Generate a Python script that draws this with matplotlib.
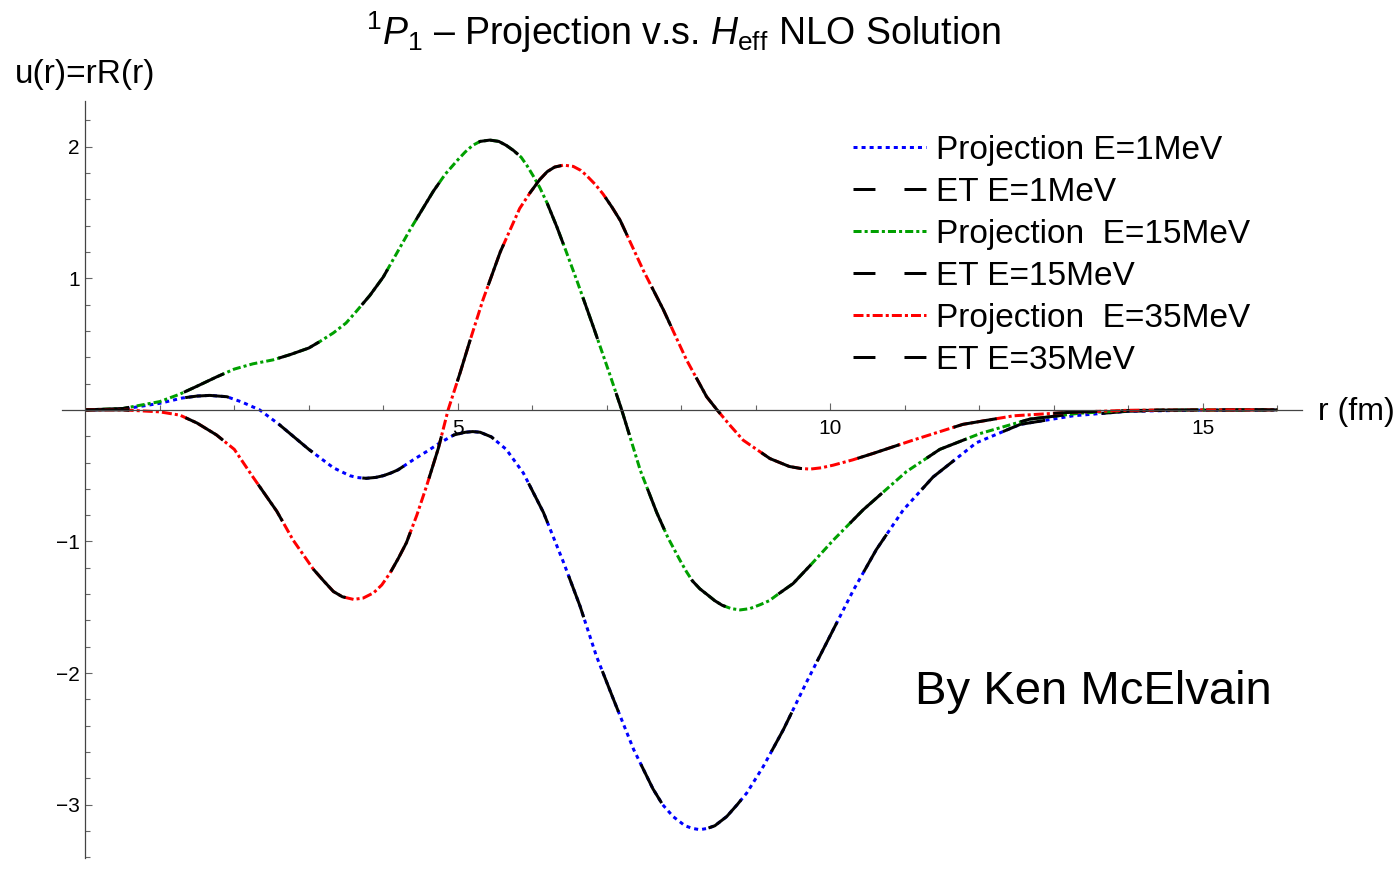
import numpy as np
import matplotlib.pyplot as plt
from matplotlib.lines import Line2D
from matplotlib.ticker import FixedLocator

plt.rcParams['font.family'] = ['Liberation Sans', 'DejaVu Sans']
plt.rcParams['mathtext.fontset'] = 'custom'
plt.rcParams['mathtext.rm'] = 'Liberation Sans'
plt.rcParams['mathtext.it'] = 'Liberation Sans:italic'
plt.rcParams['lines.scale_dashes'] = False  # dash lengths below are in points

# u(r) = r R(r) for the 1P1 channel, r in fm
r_1 = [0, 0.5, 1.0, 1.3, 1.5, 1.67, 1.9, 2.1, 2.34, 2.6, 3.0, 3.33, 3.55, 3.65,
       3.77, 3.9, 4.0, 4.1, 4.2, 4.4, 4.6, 4.76, 4.95, 5.1, 5.2, 5.3, 5.45,
       5.65, 5.88, 6.15, 6.42, 6.64, 6.86, 7.09, 7.36, 7.62, 7.75, 7.89, 8.05,
       8.15, 8.25, 8.35, 8.45, 8.61, 8.75, 8.88, 9.1, 9.37, 9.68, 9.95, 10.31,
       10.62, 10.98, 11.38, 11.96, 12.55, 13.26, 14.0, 15.0, 16.0]
u_1 = [0, 0.005, 0.05, 0.09, 0.105, 0.11, 0.10, 0.06, 0.0, -0.11, -0.30, -0.44,
       -0.50, -0.514, -0.52, -0.513, -0.50, -0.48, -0.455, -0.38, -0.31, -0.25,
       -0.19, -0.17, -0.165, -0.17, -0.205, -0.30, -0.48, -0.78, -1.16, -1.49,
       -1.87, -2.20, -2.58, -2.88, -3.0, -3.09, -3.16, -3.18, -3.19, -3.18,
       -3.16, -3.09, -3.0, -2.91, -2.71, -2.43, -2.07, -1.77, -1.37, -1.06,
       -0.76, -0.51, -0.25, -0.11, -0.045, -0.01, -0.002, 0]

r_15 = [0, 0.5, 1.0, 1.27, 1.5, 1.76, 2.0, 2.25, 2.52, 2.75, 3.0, 3.15, 3.33,
        3.5, 3.64, 3.82, 4.0, 4.18, 4.36, 4.52, 4.67, 4.83, 5.0, 5.1, 5.2, 5.3,
        5.43, 5.55, 5.65, 5.75, 5.85, 5.93, 6.01, 6.1, 6.2, 6.33, 6.45, 6.6,
        6.82, 7.04, 7.2, 7.45, 7.67, 7.82, 7.98, 8.07, 8.15, 8.25, 8.34, 8.45,
        8.55, 8.67, 8.79, 8.92, 9.06, 9.18, 9.3, 9.5, 9.75, 10.04, 10.44, 11.02,
        11.47, 12.01, 12.68, 13.35, 14.0, 15.0, 16.0]
u_15 = [0, 0.01, 0.063, 0.12, 0.18, 0.25, 0.31, 0.35, 0.38, 0.42, 0.47, 0.52,
        0.585, 0.66, 0.75, 0.87, 1.01, 1.19, 1.37, 1.52, 1.66, 1.79, 1.90, 1.96,
        2.01, 2.04, 2.05, 2.04, 2.01, 1.97, 1.92, 1.855, 1.78, 1.69, 1.57, 1.39,
        1.21, 0.98, 0.63, 0.27, 0.0, -0.46, -0.78, -0.97, -1.14, -1.23, -1.30,
        -1.36, -1.40, -1.45, -1.485, -1.51, -1.52, -1.51, -1.48, -1.45, -1.40,
        -1.32, -1.17, -0.99, -0.76, -0.47, -0.30, -0.18, -0.07, -0.025, -0.005,
        0, 0]

r_35 = [0, 0.5, 1.0, 1.27, 1.5, 1.76, 2.0, 2.25, 2.57, 2.79, 3.06, 3.2, 3.33,
        3.45, 3.6, 3.73, 3.87, 3.98, 4.09, 4.2, 4.31, 4.45, 4.58, 4.74, 4.87,
        5.03, 5.16, 5.34, 5.57, 5.83, 5.97, 6.1, 6.2, 6.3, 6.42, 6.55, 6.65,
        6.73, 6.85, 6.95, 7.07, 7.18, 7.49, 7.76, 8.07, 8.34, 8.48, 8.65, 8.83,
        9.19, 9.45, 9.6, 9.73, 9.88, 10.04, 10.3, 10.58, 11.11, 11.78, 12.46,
        13.17, 14.0, 15.0, 16.0]
u_35 = [0, 0, -0.015, -0.04, -0.10, -0.19, -0.30, -0.51, -0.77, -0.99, -1.21,
        -1.30, -1.38, -1.42, -1.44, -1.43, -1.39, -1.33, -1.24, -1.13, -1.01,
        -0.80, -0.58, -0.29, 0.0, 0.28, 0.52, 0.84, 1.20, 1.53, 1.65, 1.75,
        1.81, 1.845, 1.86, 1.85, 1.82, 1.78, 1.71, 1.64, 1.54, 1.44, 1.06, 0.76,
        0.38, 0.10, 0.0, -0.115, -0.23, -0.37, -0.43, -0.445, -0.45, -0.44,
        -0.42, -0.38, -0.33, -0.23, -0.11, -0.045, -0.02, -0.003, 0, 0]

labels = ["Projection E=1MeV", "ET E=1MeV",
          "Projection  E=15MeV", "ET E=15MeV",
          "Projection  E=35MeV", "ET E=35MeV"]

lw = 2.16
blue, green, red = '#0000ff', '#00a000', '#ff0000'
dot = (0, (2.9, 2.9))
dashdot_g = (0, (5.8, 2.2, 2.2, 2.2))
dashdot_r = (0, (7.2, 2.2, 2.2, 2.2))
long_dash = (0, (31.7, 41.0))
short_dash = (0, (15.8, 20.9))

fig = plt.figure(figsize=(13.99, 8.69), dpi=100)
ax = fig.add_axes([62 / 1399, 11 / 869, 1240 / 1399, 757 / 869])

ax.plot(r_1, u_1, color=blue, lw=lw, ls=dot, dash_capstyle='butt')
ax.plot(r_1, u_1, color='k', lw=lw, ls=long_dash, dash_capstyle='butt')
ax.plot(r_15, u_15, color=green, lw=lw, ls=dashdot_g, dash_capstyle='butt')
ax.plot(r_15, u_15, color='k', lw=lw, ls=long_dash, dash_capstyle='butt')
ax.plot(r_35, u_35, color=red, lw=lw, ls=dashdot_r, dash_capstyle='butt')
ax.plot(r_35, u_35, color='k', lw=lw, ls=long_dash, dash_capstyle='butt')

ax.set_xlim(-0.313, 16.332)
ax.set_ylim(-3.405, 2.347)

# axes crossing at the origin
for side in ('top', 'right'):
    ax.spines[side].set_visible(False)
ax.spines['left'].set_position(('data', 0))
ax.spines['bottom'].set_position(('data', 0))
for side in ('left', 'bottom'):
    ax.spines[side].set_color('#444444')
    ax.spines[side].set_linewidth(0.9)

ax.xaxis.set_major_locator(FixedLocator([5, 10, 15]))
ax.xaxis.set_minor_locator(FixedLocator([1, 2, 3, 4, 6, 7, 8, 9, 11, 12, 13, 14, 16]))
ax.yaxis.set_major_locator(FixedLocator([-3, -2, -1, 1, 2]))
ax.yaxis.set_minor_locator(FixedLocator([k * 0.2 for k in range(-17, 12) if k % 5 != 0]))
ax.tick_params(which='both', direction='in', color='#666666', width=0.8, labelsize=15)
ax.tick_params(which='major', length=5)
ax.tick_params(which='minor', length=3.4)
ax.tick_params(axis='x', pad=6.5)
ax.tick_params(axis='y', pad=4)

handles = [Line2D([], [], color=blue, lw=lw, ls=dot, dash_capstyle='butt'),
           Line2D([], [], color='k', lw=lw, ls=short_dash, dash_capstyle='butt'),
           Line2D([], [], color=green, lw=lw, ls=dashdot_g, dash_capstyle='butt'),
           Line2D([], [], color='k', lw=lw, ls=short_dash, dash_capstyle='butt'),
           Line2D([], [], color=red, lw=lw, ls=dashdot_r, dash_capstyle='butt'),
           Line2D([], [], color='k', lw=lw, ls=short_dash, dash_capstyle='butt')]
fig.legend(handles, labels, loc='upper left', bbox_to_anchor=(853 / 1399, 1 - 135 / 869),
           frameon=False, fontsize=24, handlelength=2.2, handletextpad=0.3,
           labelspacing=0.33, borderpad=0, borderaxespad=0)

fig.text(683 / 1399, 1 - 45 / 869,
         r'$^{1}P_{1}$ – Projection v.s. $H_{\mathrm{eff}}$ NLO Solution',
         ha='center', va='baseline', fontsize=27)
fig.text(15 / 1399, 1 - 83 / 869, 'u(r)=rR(r)', ha='left', va='baseline', fontsize=24)
fig.text(1318 / 1399, 1 - 420 / 869, 'r (fm)', ha='left', va='baseline', fontsize=23)
fig.text(915 / 1399, 1 - 704 / 869, 'By Ken McElvain', ha='left', va='baseline', fontsize=34)

fig.savefig('out.png', dpi=100)
